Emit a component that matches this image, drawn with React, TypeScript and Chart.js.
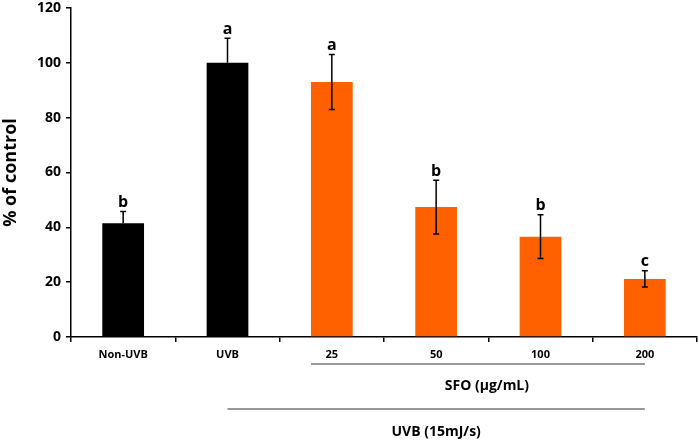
import { useEffect, useRef } from "react"
import { Chart, registerables } from "chart.js"

Chart.register(...registerables)

const labels = ["Non-UVB", "UVB", "25", "50", "100", "200"]
const values = [41.5, 100, 93, 47.4, 36.6, 21.2]
const errors = [4.3, 9, 10, 9.8, 8, 3]
const letters = ["b", "a", "a", "b", "b", "c"]
const colors = ["#000000", "#000000", "#ff6100", "#ff6100", "#ff6100", "#ff6100"]

const FONT = "'Open Sans', 'Liberation Sans', sans-serif"

const annotations = {
  id: "annotations",
  afterDatasetsDraw(chart: Chart) {
    const ctx = chart.ctx
    const x = chart.scales.x
    const y = chart.scales.y
    ctx.save()
    // error bars + letters
    ctx.strokeStyle = "#000"
    ctx.lineWidth = 1.5
    ctx.fillStyle = "#000"
    ctx.font = `bold 16px ${FONT}`
    ctx.textAlign = "center"
    ctx.textBaseline = "bottom"
    values.forEach((v, i) => {
      const cx = x.getPixelForValue(i)
      const top = y.getPixelForValue(v + errors[i])
      const bot = y.getPixelForValue(i < 2 ? v : v - errors[i])
      ctx.beginPath()
      ctx.moveTo(cx, top)
      ctx.lineTo(cx, bot)
      ctx.moveTo(cx - 3, top)
      ctx.lineTo(cx + 3, top)
      if (i >= 2) {
        ctx.moveTo(cx - 3, bot)
        ctx.lineTo(cx + 3, bot)
      }
      ctx.stroke()
      ctx.fillText(letters[i], cx, top - 1)
    })
    // group brackets under axis
    const half = (x.getPixelForValue(1) - x.getPixelForValue(0)) / 2
    ctx.lineWidth = 1
    ctx.strokeStyle = "#333"
    const x1 = x.getPixelForValue(2) - half * 0.4
    const x2 = x.getPixelForValue(5)
    ctx.beginPath()
    ctx.moveTo(x1, 364)
    ctx.lineTo(x2, 364)
    const x3 = x.getPixelForValue(1)
    ctx.moveTo(x3, 409)
    ctx.lineTo(x2, 409)
    ctx.stroke()
    ctx.font = `bold 14px ${FONT}`
    ctx.textBaseline = "middle"
    ctx.fillText("SFO (\u00b5g/mL)", (x1 + x2) / 2 + 9, 386)
    ctx.fillText("UVB (15mJ/s)", (x3 + x2) / 2, 432)
    ctx.restore()
  },
}

export default function App() {
  const chartRef = useRef<HTMLCanvasElement>(null)
  const chartInstance = useRef<Chart | null>(null)

  useEffect(() => {
    if (!chartRef.current) return
    if (chartInstance.current) chartInstance.current.destroy()

    chartInstance.current = new Chart(chartRef.current, {
      type: "bar",
      data: {
        labels,
        datasets: [
          {
            data: values,
            backgroundColor: colors,
            barPercentage: 0.4,
            categoryPercentage: 1,
          },
        ],
      },
      options: {
        responsive: true,
        maintainAspectRatio: false,
        animation: false,
        layout: { padding: { top: 8, right: 2, left: 0, bottom: 0 } },
        plugins: {
          legend: { display: false },
          tooltip: { enabled: false },
        },
        scales: {
          x: {
            grid: {
              offset: true,
              drawOnChartArea: false,
              tickLength: 5,
              color: "#000",
              lineWidth: 1.5,
            },
            border: { color: "#000", width: 1.5 },
            ticks: {
              color: "#000",
              font: { family: FONT, size: 11, weight: "bold" },
              padding: 6,
              maxRotation: 0,
            },
            afterFit: (scale) => {
              scale.height = 105
            },
          },
          y: {
            min: 0,
            max: 120,
            ticks: {
              stepSize: 20,
              color: "#000",
              font: { family: FONT, size: 14, weight: "bold" },
              padding: 5,
            },
            grid: {
              drawOnChartArea: false,
              tickLength: 5,
              color: "#000",
              lineWidth: 1.5,
            },
            border: { color: "#000", width: 1.5 },
            title: {
              display: true,
              text: "% of control",
              color: "#000",
              font: { family: FONT, size: 18, weight: "bold" },
              padding: 0,
            },
            afterFit: (scale) => {
              scale.width = 71
              scale.paddingTop = 0
            },
          },
        },
      },
      plugins: [annotations],
    })

    return () => {
      if (chartInstance.current) chartInstance.current.destroy()
    }
  }, [])

  return (
    <div style={{ position: "fixed", left: 0, top: 0, width: 699, height: 442, background: "#fff" }}>
      <canvas ref={chartRef} />
    </div>
  )
}
